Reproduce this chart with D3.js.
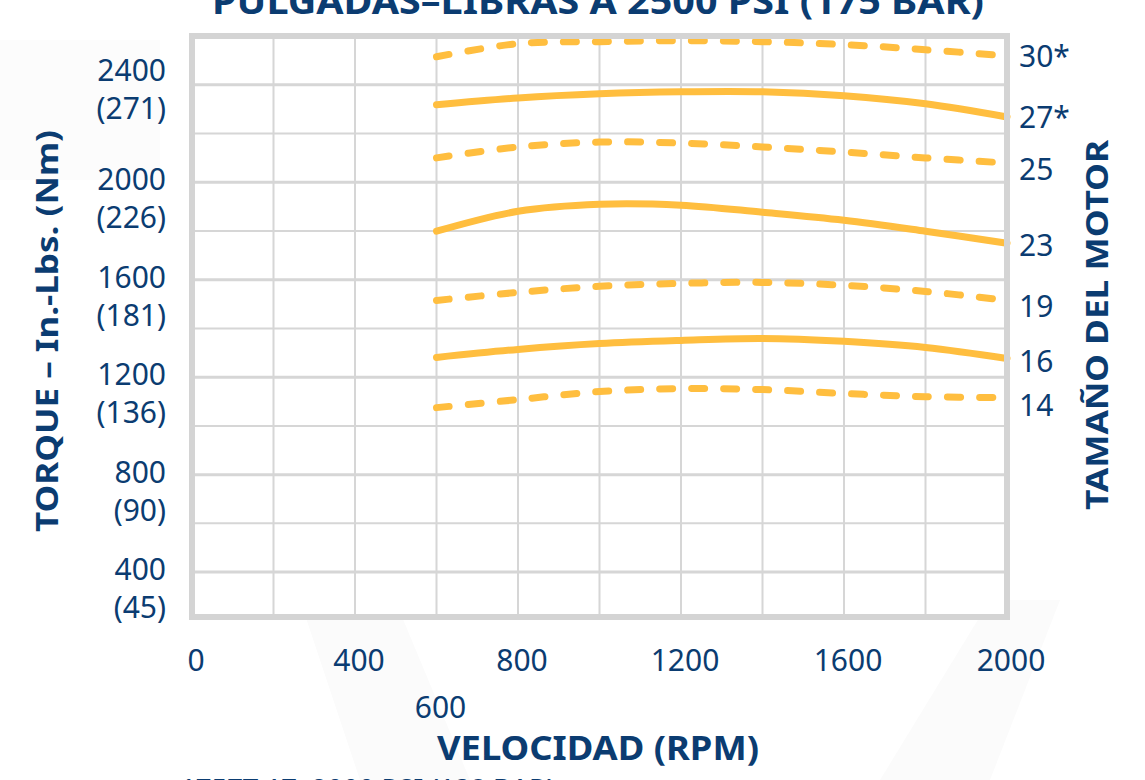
<!DOCTYPE html>
<html>
<head>
<meta charset="utf-8">
<script src="https://cdn.jsdelivr.net/npm/d3@7"></script>
<style>
  html, body { margin: 0; padding: 0; background: #ffffff; }
  svg { display: block; }
</style>
</head>
<body>
<svg id="chart" width="1145" height="780"></svg>
<script>
// ---------- data ----------
const rpm = [600, 800, 1000, 1200, 1400, 1600, 1800, 2000];
const motorSizes = ["30*", "27*", "25", "23", "19", "16", "14"];
const lineStyles = ["dashed", "solid", "dashed", "solid", "dashed", "solid", "dashed"];
const torque30 = [2515, 2569, 2577, 2581, 2577, 2565, 2544, 2519];
const torque27 = [2318, 2346, 2363, 2371, 2371, 2355, 2322, 2268];
const torque25 = [2100, 2145, 2165, 2161, 2145, 2124, 2100, 2079];
const torque23 = [1799, 1881, 1910, 1906, 1877, 1844, 1799, 1750];
const torque19 = [1515, 1548, 1573, 1585, 1589, 1577, 1552, 1515];
const torque16 = [1281, 1314, 1338, 1351, 1359, 1347, 1322, 1277];
const torque14 = [1075, 1108, 1141, 1153, 1149, 1133, 1120, 1116];
const yTickValues = [2400, 2000, 1600, 1200, 800, 400];
const yTickNm = ["(271)", "(226)", "(181)", "(136)", "(90)", "(45)"];
const xTickValues = [0, 400, 800, 1200, 1600, 2000];
const xExtraTick = [600];
const titleText = "PULGADAS–LIBRAS A 2500 PSI (175 BAR)";
const nextTitleText = "1757T 17, 2000 PSI (138 BAR)";
const xTitle = "VELOCIDAD (RPM)";
const yTitle = "TORQUE – In.-Lbs. (Nm)";
const y2Title = "TAMAÑO DEL MOTOR";

const seriesValues = [torque30, torque27, torque25, torque23, torque19, torque16, torque14];

// ---------- setup ----------
const svg = d3.select("#chart");
const NAVY = "#0b3c71";
const YELLOW = "#ffbe3f";
const GRID = "#d6d6d6";
const FONT = "'Noto Sans', 'Open Sans', sans-serif";

const x = d3.scaleLinear().domain([0, 2000]).range([192, 1007]);
const y = d3.scaleLinear().domain([228, 2588]).range([614, 39]);

// very faint watermark
svg.append("path")
  .attr("d", "M300,600 L395,600 L470,780 L360,780 Z M990,600 L1060,600 L990,780 L880,780 Z")
  .attr("fill", "#fbfbfb");
svg.append("rect").attr("x", 0).attr("y", 40).attr("width", 160).attr("height", 140).attr("fill", "#fcfcfc");

// plot background
svg.append("rect")
  .attr("x", x(0)).attr("y", y(2588))
  .attr("width", x(2000) - x(0)).attr("height", y(228) - y(2588))
  .attr("fill", "#ffffff");

// grid
const g = svg.append("g");
g.selectAll("line.v")
  .data(d3.range(200, 2000, 200))
  .join("line")
  .attr("x1", d => x(d)).attr("x2", d => x(d))
  .attr("y1", y(2588)).attr("y2", y(228))
  .attr("stroke", GRID).attr("stroke-width", 2);
g.selectAll("line.h")
  .data(d3.range(400, 2600, 200))
  .join("line")
  .attr("x1", x(0)).attr("x2", x(2000))
  .attr("y1", d => y(d)).attr("y2", d => y(d))
  .attr("stroke", GRID).attr("stroke-width", d => d % 400 === 0 ? 3 : 2);

// curves
const line = d3.line()
  .x((d, i) => x(rpm[i]))
  .y(d => y(d))
  .curve(d3.curveCatmullRom.alpha(0.5));

svg.append("g").selectAll("path")
  .data(seriesValues)
  .join("path")
  .attr("d", d => line(d))
  .attr("fill", "none")
  .attr("stroke", YELLOW)
  .attr("stroke-width", 7)
  .attr("stroke-linecap", "round")
  .attr("stroke-dasharray", (d, i) => lineStyles[i] === "dashed" ? "13,19" : null);

// frame
svg.append("rect")
  .attr("x", x(0)).attr("y", 36)
  .attr("width", x(2000) - x(0)).attr("height", 617 - 36)
  .attr("fill", "none")
  .attr("stroke", "#d4d4d4")
  .attr("stroke-width", 6);

// y axis labels (left)
const yl = svg.append("g").attr("font-family", FONT).attr("fill", NAVY).attr("font-size", 30).attr("text-anchor", "end");
yTickValues.forEach((v, i) => {
  const yy = y(v) + (i === 0 ? -14 : -2);
  yl.append("text").attr("x", 166).attr("y", yy + 10).text(v);
  yl.append("text").attr("x", 166).attr("y", yy + 48).text(yTickNm[i]);
});

// x axis labels
const xl = svg.append("g").attr("font-family", FONT).attr("fill", NAVY).attr("font-size", 30).attr("text-anchor", "middle");
xl.selectAll("text.t").data(xTickValues).join("text")
  .attr("x", d => x(d) + 4).attr("y", 671).text(d => d);
xl.selectAll("text.e").data(xExtraTick).join("text")
  .attr("x", d => x(d) + 4).attr("y", 718).text(d => d);

// right labels
const rl = svg.append("g").attr("font-family", FONT).attr("fill", NAVY).attr("font-size", 30);
const labelOffsets = [11, 11, 17, 13, 17, 14, 18];
motorSizes.forEach((s, i) => {
  const vals = seriesValues[i];
  rl.append("text").attr("x", 1019).attr("y", y(vals[vals.length - 1]) + labelOffsets[i]).text(s);
});

// titles
svg.append("text")
  .attr("x", 598).attr("y", 14)
  .attr("text-anchor", "middle")
  .attr("font-family", FONT).attr("font-weight", 700).attr("font-size", 36)
  .attr("fill", NAVY)
  .attr("textLength", 772).attr("lengthAdjust", "spacingAndGlyphs")
  .text(titleText);

svg.append("text")
  .attr("x", 598).attr("y", 760)
  .attr("text-anchor", "middle")
  .attr("font-family", FONT).attr("font-weight", 700).attr("font-size", 34)
  .attr("fill", NAVY)
  .attr("textLength", 322).attr("lengthAdjust", "spacingAndGlyphs")
  .text(xTitle);

svg.append("text")
  .attr("transform", "translate(58,331) rotate(-90)")
  .attr("text-anchor", "middle")
  .attr("font-family", FONT).attr("font-weight", 700).attr("font-size", 30)
  .attr("fill", NAVY)
  .attr("textLength", 402).attr("lengthAdjust", "spacingAndGlyphs")
  .text(yTitle);

svg.append("text")
  .attr("transform", "translate(1108,325) rotate(-90)")
  .attr("text-anchor", "middle")
  .attr("font-family", FONT).attr("font-weight", 700).attr("font-size", 30)
  .attr("fill", NAVY)
  .attr("textLength", 370).attr("lengthAdjust", "spacingAndGlyphs")
  .text(y2Title);

// partially visible next chart title
svg.append("text")
  .attr("x", 180).attr("y", 800)
  .attr("font-family", FONT).attr("font-weight", 500).attr("font-size", 28)
  .attr("fill", NAVY)
  .attr("textLength", 375).attr("lengthAdjust", "spacingAndGlyphs")
  .text(nextTitleText);
</script>
</body>
</html>
